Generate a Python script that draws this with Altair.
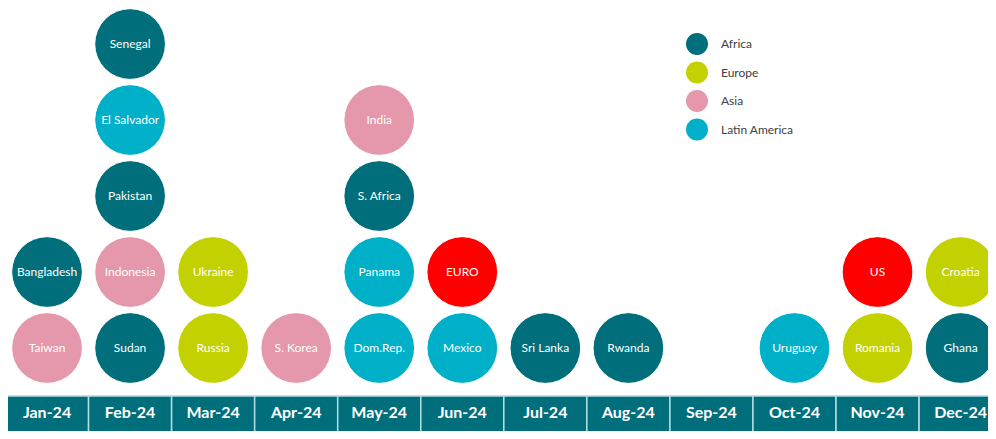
import altair as alt
import pandas as pd

months = ["Jan-24", "Feb-24", "Mar-24", "Apr-24", "May-24", "Jun-24",
          "Jul-24", "Aug-24", "Sep-24", "Oct-24", "Nov-24", "Dec-24"]

countries = ["Taiwan", "Bangladesh",
             "Sudan", "Indonesia", "Pakistan", "El Salvador", "Senegal",
             "Russia", "Ukraine",
             "S. Korea",
             "Dom.Rep.", "Panama", "S. Africa", "India",
             "Mexico", "EURO",
             "Sri Lanka",
             "Rwanda",
             "Uruguay",
             "Romania", "US",
             "Ghana", "Croatia"]
country_month = ["Jan-24", "Jan-24",
                 "Feb-24", "Feb-24", "Feb-24", "Feb-24", "Feb-24",
                 "Mar-24", "Mar-24",
                 "Apr-24",
                 "May-24", "May-24", "May-24", "May-24",
                 "Jun-24", "Jun-24",
                 "Jul-24",
                 "Aug-24",
                 "Oct-24",
                 "Nov-24", "Nov-24",
                 "Dec-24", "Dec-24"]
stack_level = [1, 2,
               1, 2, 3, 4, 5,
               1, 2,
               1,
               1, 2, 3, 4,
               1, 2,
               1,
               1,
               1,
               1, 2,
               1, 2]
colour_group = ["Asia", "Africa",
                "Africa", "Asia", "Africa", "Latin America", "Africa",
                "Europe", "Europe",
                "Asia",
                "Latin America", "Latin America", "Africa", "Asia",
                "Latin America", "Other",
                "Africa",
                "Africa",
                "Latin America",
                "Europe", "Other",
                "Africa", "Europe"]

group_domain = ["Africa", "Europe", "Asia", "Latin America", "Other"]
group_colours = ["#006F7B", "#C3D100", "#E597AB", "#00B0C8", "#FF0000"]
legend_groups = ["Africa", "Europe", "Asia", "Latin America"]

month_df = pd.DataFrame({
    "month": months,
    "x0": list(range(len(months))),
    "x1": [i + 1 for i in range(len(months))],
    "xm": [i + 0.5 for i in range(len(months))],
})

circ_df = pd.DataFrame({
    "country": countries,
    "month": country_month,
    "level": stack_level,
    "group": colour_group,
})
circ_df["xm"] = circ_df["month"].map({m: i + 0.5 for i, m in enumerate(months)})

xscale = alt.Scale(domain=[0.03, 11.83], nice=False, zero=False)
yscale = alt.Scale(domain=[-0.092, 5.474], nice=False, zero=False)

band = alt.Chart(month_df).mark_rect(
    color="#006F7B", stroke="#B4DCE0", strokeWidth=1.5, clip=True
).encode(
    x=alt.X("x0:Q", scale=xscale, axis=None),
    x2="x1:Q",
    y=alt.value(388),
    y2=alt.value(430),
)

band_text = alt.Chart(month_df).mark_text(
    font="Lato", fontSize=16, fontWeight="bold", color="white", baseline="middle"
).encode(
    x=alt.X("xm:Q", scale=xscale, axis=None),
    y=alt.value(405),
    text="month:N",
)

circles = alt.Chart(circ_df).mark_circle(
    size=5000, opacity=1, stroke="white", strokeWidth=1
).encode(
    x=alt.X("xm:Q", scale=xscale, axis=None),
    y=alt.Y("level:Q", scale=yscale, axis=None),
    color=alt.Color(
        "group:N",
        scale=alt.Scale(domain=group_domain, range=group_colours),
        legend=alt.Legend(
            values=legend_groups, title=None, orient="none",
            legendX=678, legendY=25, padding=0,
            symbolType="circle", symbolSize=484, symbolStrokeWidth=0,
            symbolOpacity=1,
            labelFont="Lato", labelFontSize=12, labelColor="#404040",
            labelOffset=13, rowPadding=6.5,
        ),
    ),
)

labels = alt.Chart(circ_df).mark_text(
    font="Lato", fontSize=12, color="white", baseline="middle"
).encode(
    x=alt.X("xm:Q", scale=xscale, axis=None),
    y=alt.Y("level:Q", scale=yscale, axis=None),
    text="country:N",
)

chart = alt.layer(band, band_text, circles, labels).properties(
    width=980, height=423, autosize=alt.AutoSizeParams(type="none"), padding=0
).configure_view(stroke=None)

chart.save("out.html", embed_options={"renderer": "svg", "actions": False})
